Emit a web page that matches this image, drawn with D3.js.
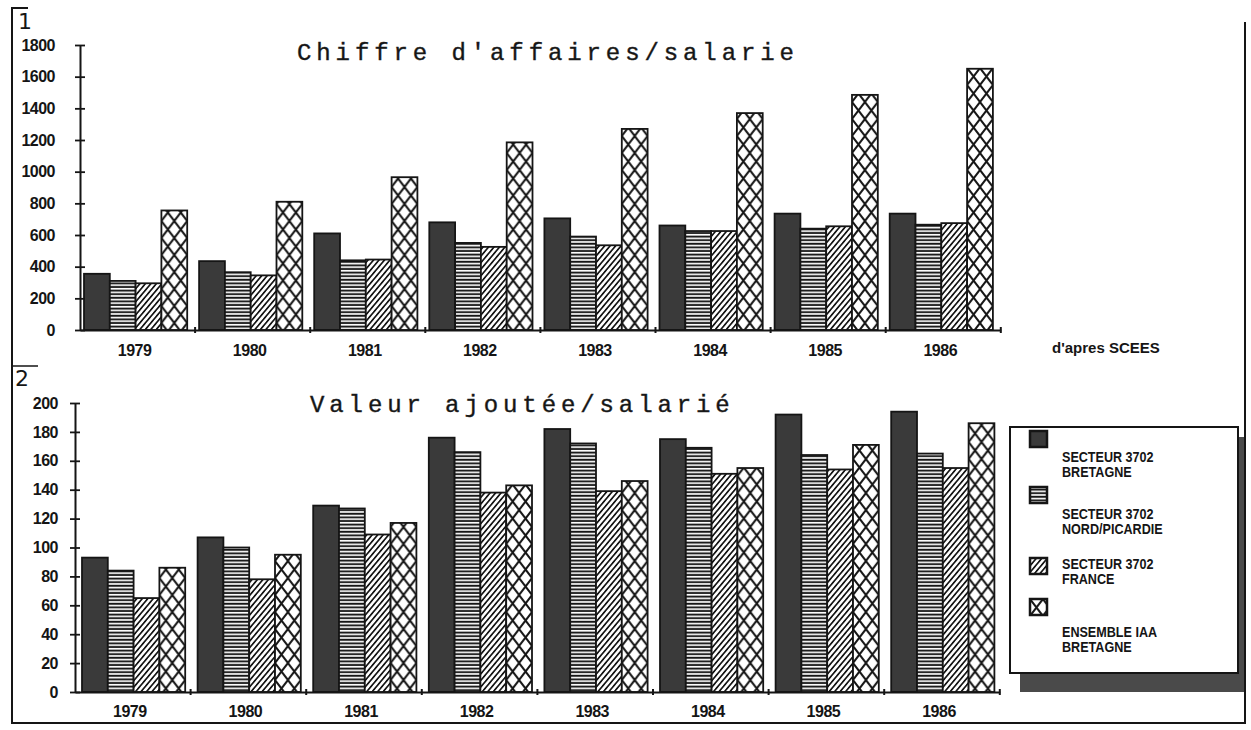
<!DOCTYPE html>
<html>
<head>
<meta charset="utf-8">
<script src="https://cdn.jsdelivr.net/npm/d3@7"></script>
<style>
  body { margin: 0; background: #fff; }
  text { font-family: "Liberation Sans", Arial, sans-serif; fill: #151515; }
</style>
</head>
<body>
<script>
// data
var years = ["1979", "1980", "1981", "1982", "1983", "1984", "1985", "1986"];

var caBretagne = [355, 435, 610, 680, 705, 660, 735, 735];
var caNord     = [310, 365, 440, 550, 590, 625, 640, 665];
var caFrance   = [295, 345, 445, 525, 535, 625, 655, 675];
var caIaa      = [755, 810, 965, 1185, 1270, 1370, 1485, 1650];

var vaBretagne = [93, 107, 129, 176, 182, 175, 192, 194];
var vaNord     = [84, 100, 127, 166, 172, 169, 164, 165];
var vaFrance   = [65, 78, 109, 138, 139, 151, 154, 155];
var vaIaa      = [86, 95, 117, 143, 146, 155, 171, 186];

var caTicks = [0, 200, 400, 600, 800, 1000, 1200, 1400, 1600, 1800];
var vaTicks = [0, 20, 40, 60, 80, 100, 120, 140, 160, 180, 200];

var legendLines = [
  ["SECTEUR 3702", "BRETAGNE"],
  ["SECTEUR 3702", "NORD/PICARDIE"],
  ["SECTEUR 3702", "FRANCE"],
  ["ENSEMBLE IAA", "BRETAGNE"]
];

var W = 1251, H = 730;
var ink = "#151515";
var barW = 25.8;

var svg = d3.select("body").append("svg")
    .attr("width", W)
    .attr("height", H);

// fill patterns, in the bar's own coordinates
var defs = svg.append("defs");

var ph = defs.append("pattern").attr("id", "p-horiz")
    .attr("patternUnits", "userSpaceOnUse")
    .attr("width", 8).attr("height", 3.6);
ph.append("rect").attr("width", 8).attr("height", 3.6).attr("fill", "#fff");
ph.append("rect").attr("y", 1.6).attr("width", 8).attr("height", 1.9).attr("fill", ink);

var pd = defs.append("pattern").attr("id", "p-diag")
    .attr("patternUnits", "userSpaceOnUse")
    .attr("width", 4.2).attr("height", 8)
    .attr("patternTransform", "rotate(40)");
pd.append("rect").attr("width", 4.2).attr("height", 8).attr("fill", "#fff");
pd.append("rect").attr("width", 1.7).attr("height", 8).attr("fill", ink);

var cw = barW / 2, ch = 17;
var pc = defs.append("pattern").attr("id", "p-cross")
    .attr("patternUnits", "userSpaceOnUse")
    .attr("width", cw).attr("height", ch);
pc.append("rect").attr("width", cw).attr("height", ch).attr("fill", "#fff");
pc.append("path")
    .attr("d", "M0,0L" + cw + "," + ch + "M" + cw + ",0L0," + ch)
    .attr("stroke", ink).attr("stroke-width", 2).attr("fill", "none");

var fills = ["#3a3a3a", "url(#p-horiz)", "url(#p-diag)", "url(#p-cross)"];

function drawChart(cfg) {
  var g = svg.append("g");

  var x = d3.scaleBand()
      .domain(years)
      .range([cfg.axisX, cfg.axisX + cfg.step * years.length]);
  var sub = d3.scaleBand()
      .domain([0, 1, 2, 3])
      .range([cfg.offset, cfg.offset + barW * 4]);
  var y = d3.scaleLinear()
      .domain([0, cfg.max])
      .range([cfg.base, cfg.top]);

  // bars, each drawn in its own translated group so the hatching starts at its edge
  years.forEach(function(yr, i) {
    cfg.series.forEach(function(vals, s) {
      var v = vals[i];
      g.append("g")
        .attr("transform", "translate(" + (x(yr) + sub(s)) + ",0)")
        .append("rect")
        .attr("x", 0)
        .attr("y", y(v))
        .attr("width", sub.bandwidth())
        .attr("height", cfg.base - y(v))
        .attr("fill", fills[s])
        .attr("stroke", ink)
        .attr("stroke-width", 1.8);
    });
  });

  // y axis with crossing ticks
  var ya = g.append("g")
      .attr("transform", "translate(" + cfg.axisX + ",0)")
      .call(d3.axisLeft(y)
        .tickValues(cfg.ticks)
        .tickFormat(d3.format("d"))
        .tickSizeInner(5)
        .tickSizeOuter(0)
        .tickPadding(cfg.labelPad));
  ya.select(".domain").attr("stroke", ink).attr("stroke-width", 2);
  ya.selectAll(".tick line").attr("x1", 5).attr("stroke", ink).attr("stroke-width", 1.8);
  ya.selectAll(".tick text")
      .style("font-family", "'Liberation Sans', Arial, sans-serif")
      .style("font-weight", "bold")
      .style("font-size", "16px")
      .style("letter-spacing", "-0.5px")
      .attr("fill", ink);

  // x axis, year labels at the band centres
  var xa = g.append("g")
      .attr("transform", "translate(0," + cfg.base + ")")
      .call(d3.axisBottom(x)
        .tickSizeInner(0)
        .tickSizeOuter(0)
        .tickPadding(cfg.yearPad));
  xa.select(".domain").attr("stroke", ink).attr("stroke-width", 2);
  xa.selectAll(".tick text")
      .style("font-family", "'Liberation Sans', Arial, sans-serif")
      .style("font-weight", "bold")
      .style("font-size", "16px")
      .style("letter-spacing", "-0.5px")
      .attr("fill", ink)
      .attr("dx", -3);

  // small marks between the year groups
  g.selectAll(".sep")
    .data(years.slice(1).concat(["end"]))
    .enter().append("line")
    .attr("x1", function(d) { return d === "end" ? x.range()[1] : x(d); })
    .attr("x2", function(d) { return d === "end" ? x.range()[1] : x(d); })
    .attr("y1", cfg.base - 3)
    .attr("y2", cfg.base + 3)
    .attr("stroke", ink)
    .attr("stroke-width", 2);

  g.append("text")
    .attr("x", cfg.titleX)
    .attr("y", cfg.titleY)
    .style("font-family", "'Liberation Mono', 'Courier New', monospace")
    .style("font-size", "24px")
    .style("letter-spacing", "4.9px")
    .attr("fill", "#222")
    .attr("stroke", "#222")
    .attr("stroke-width", 0.4)
    .text(cfg.title);
}

drawChart({
  axisX: 80, step: 115.1, offset: 4, base: 330, top: 45, max: 1800,
  ticks: caTicks, labelPad: 20, yearPad: 15,
  series: [caBretagne, caNord, caFrance, caIaa],
  title: "Chiffre d'affaires/salarie", titleX: 297, titleY: 60
});

drawChart({
  axisX: 75, step: 115.6, offset: 7, base: 692, top: 403, max: 200,
  ticks: vaTicks, labelPad: 12, yearPad: 14,
  series: [vaBretagne, vaNord, vaFrance, vaIaa],
  title: "Valeur ajoutée/salarié", titleX: 310, titleY: 412
});

// source note
svg.append("text")
  .attr("x", 1052).attr("y", 353)
  .style("font-weight", "bold").style("font-size", "15px")
  .text("d'apres SCEES");

// legend with its shadow
var lg = svg.append("g");
lg.append("rect")
  .attr("x", 1020).attr("y", 437).attr("width", 225).attr("height", 255)
  .attr("fill", "#4a4a4a");
lg.append("rect")
  .attr("x", 1010).attr("y", 427).attr("width", 228).attr("height", 246)
  .attr("fill", "#fff").attr("stroke", ink).attr("stroke-width", 2);

var swatchY = [431, 487, 558, 599];
var textY = [462, 519, 569, 637];
legendLines.forEach(function(lines, i) {
  lg.append("g")
    .attr("transform", "translate(1030," + swatchY[i] + ")")
    .append("rect")
    .attr("width", 17).attr("height", 16)
    .attr("fill", fills[i])
    .attr("stroke", ink).attr("stroke-width", 2.5);
  lines.forEach(function(t, j) {
    lg.append("text")
      .attr("transform", "translate(1062," + (textY[i] + j * 15) + ") scale(0.9,1)")
      .style("font-weight", "bold").style("font-size", "14px")
      .text(t);
  });
});

// page frame and the hand-written numbers
var frame = svg.append("g").attr("stroke", ink).attr("fill", "none");
frame.append("path").attr("d", "M28,8H12V723H1245V22").attr("stroke-width", 2);
frame.append("path").attr("d", "M12,366H38").attr("stroke-width", 1.5);
svg.append("text").attr("x", 18).attr("y", 29)
  .style("font-family", "'DejaVu Sans'")
  .style("font-size", "22px").text("1");
svg.append("text").attr("x", 15).attr("y", 386)
  .style("font-family", "'DejaVu Sans'")
  .style("font-size", "22px").text("2");
</script>
</body>
</html>
